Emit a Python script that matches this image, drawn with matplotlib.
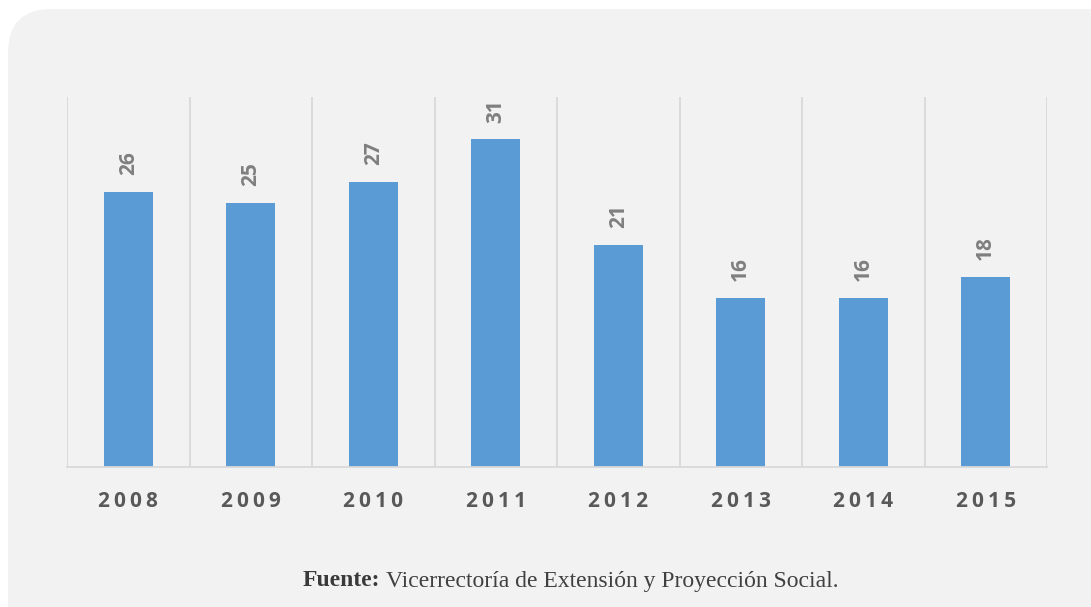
import matplotlib
matplotlib.use("Agg")
import matplotlib.pyplot as plt
from matplotlib.patches import FancyBboxPatch

years = ["2008", "2009", "2010", "2011", "2012", "2013", "2014", "2015"]
values = [26, 25, 27, 31, 21, 16, 16, 18]

bar_color = "#5B9BD5"
panel_color = "#F2F2F2"
grid_color = "#D9D9D9"

W, H = 1091, 607
fig = plt.figure(figsize=(W / 100, H / 100), dpi=100, facecolor="white")

# rounded gray panel (runs off the right and bottom edges)
top = 1 - 9 / H
panel = FancyBboxPatch((8 / W, -0.2), 1.2, top + 0.2, boxstyle="round,pad=0,rounding_size=0.04",
                       transform=fig.transFigure, facecolor=panel_color, edgecolor="none",
                       mutation_aspect=W / H, zorder=-10)
fig.patches.append(panel)

ax = fig.add_axes([67 / W, 1 - 467 / H, (1047 - 67) / W, (467 - 97) / H])
ax.set_facecolor("none")
ax.set_zorder(1)

x = list(range(len(years)))
ax.bar(x, values, width=0.4, color=bar_color, zorder=2)

ax.set_xlim(-0.5, len(years) - 0.5)
ax.set_ylim(0, 35)

# vertical separators between categories
for b in range(len(years) + 1):
    ax.axvline(b - 0.5, color=grid_color, lw=1.3, zorder=1)

for s in ["top", "right", "left"]:
    ax.spines[s].set_visible(False)
ax.spines["bottom"].set_color(grid_color)
ax.spines["bottom"].set_linewidth(1.3)

# spaced-out year labels (thin spaces between digits)
spaced = ["\u2009".join(y) for y in years]
ax.set_yticks([])
ax.set_xticks(x)
ax.set_xticklabels(spaced, fontsize=15, fontweight="bold", color="#595959",
                   family=["Open Sans", "DejaVu Sans"])
ax.tick_params(axis="x", length=0, pad=17)

for xi, v in zip(x, values):
    ax.annotate(str(v), (xi, v), xytext=(0, 12), textcoords="offset points",
                rotation=90, ha="center", va="bottom", fontsize=15, fontweight="bold",
                color="#7F7F7F", family="Open Sans")

src_y = 1 - 581 / H
t1 = fig.text(303 / W, src_y, "Fuente:", fontsize=17, fontweight="bold", family="Liberation Serif",
              color="#3A3A3A", va="center", ha="left")
fig.canvas.draw()
bb = t1.get_window_extent()
fig.text((bb.x1 + 5) / W, src_y, "Vicerrectoría de Extensión y Proyección Social.", fontsize=17,
         family="Liberation Serif", color="#404040", va="center", ha="left")

fig.savefig("out.png", dpi=100, facecolor="white")
